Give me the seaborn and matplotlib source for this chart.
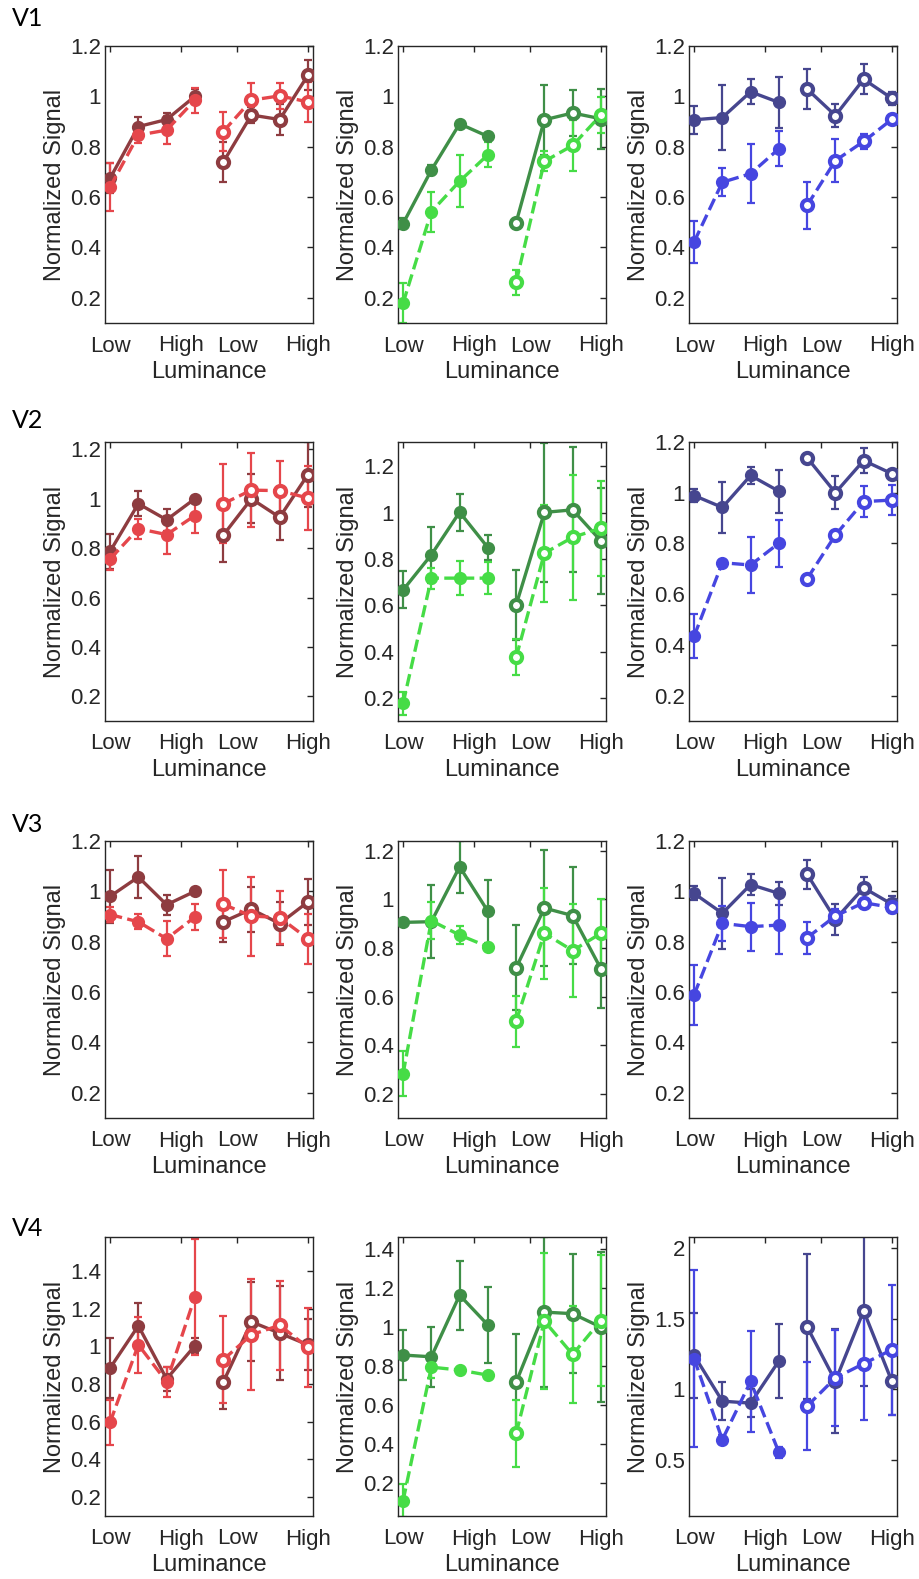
import numpy as np
import pandas as pd
import matplotlib
matplotlib.use("Agg")
import matplotlib.pyplot as plt
import seaborn as sns
from matplotlib.ticker import FuncFormatter

sns.set_theme(style="white")
plt.rcParams['font.family'] = ['Liberation Sans', 'DejaVu Sans']

# ---------------- data ----------------
x_pos = [1, 2, 3, 4, 5, 6, 7, 8]
x_tick_pos = [1, 3.5, 5.5, 8]
x_tick_labels = ["Low", "High", "Low", "High"]
row_labels = ["V1", "V2", "V3", "V4"]

# V1
V1_red_solid = [0.675, 0.88, 0.908, 1.0, 0.738, 0.926, 0.908, 1.084]
V1_red_solid_err = [0.06, 0.04, 0.027, 0.03, 0.08, 0.03, 0.06, 0.06]
V1_red_dash = [0.64, 0.846, 0.866, 0.985, 0.86, 0.985, 1.002, 0.978]
V1_red_dash_err = [0.095, 0.03, 0.056, 0.05, 0.077, 0.07, 0.053, 0.08]

V1_green_solid = [0.495, 0.707, 0.891, 0.841, 0.499, 0.907, 0.934, 0.911]
V1_green_solid_err = [0.02, 0.02, 0.01, 0.01, 0.01, 0.14, 0.09, 0.12]
V1_green_dash = [0.179, 0.542, 0.663, 0.768, 0.262, 0.742, 0.805, 0.926]
V1_green_dash_err = [0.08, 0.08, 0.104, 0.05, 0.05, 0.04, 0.1, 0.07]

V1_blue_solid = [0.907, 0.916, 1.018, 0.976, 1.029, 0.924, 1.068, 0.992]
V1_blue_solid_err = [0.056, 0.13, 0.05, 0.1, 0.08, 0.045, 0.06, 0.025]
V1_blue_dash = [0.422, 0.659, 0.693, 0.792, 0.567, 0.745, 0.821, 0.909]
V1_blue_dash_err = [0.085, 0.055, 0.117, 0.07, 0.092, 0.085, 0.03, 0.018]

# V2
V2_red_solid = [0.787, 0.98, 0.915, 1.0, 0.852, 1.0, 0.925, 1.098]
V2_red_solid_err = [0.07, 0.05, 0.045, 0.01, 0.11, 0.1, 0.09, 0.13]
V2_red_dash = [0.756, 0.879, 0.855, 0.932, 0.98, 1.035, 1.033, 1.003]
V2_red_dash_err = [0.045, 0.04, 0.077, 0.07, 0.16, 0.15, 0.12, 0.13]

V2_green_solid = [0.666, 0.818, 1.002, 0.849, 0.601, 1.001, 1.012, 0.878]
V2_green_solid_err = [0.08, 0.12, 0.08, 0.054, 0.15, 0.3, 0.27, 0.23]
V2_green_dash = [0.176, 0.717, 0.717, 0.717, 0.375, 0.825, 0.893, 0.933]
V2_green_dash_err = [0.05, 0.045, 0.074, 0.07, 0.078, 0.21, 0.27, 0.205]

V2_blue_solid = [0.989, 0.942, 1.068, 1.006, 1.138, 1.0, 1.127, 1.075]
V2_blue_solid_err = [0.025, 0.1, 0.035, 0.085, 0.01, 0.065, 0.048, 0.01]
V2_blue_dash = [0.434, 0.724, 0.715, 0.801, 0.661, 0.833, 0.965, 0.971]
V2_blue_dash_err = [0.086, 0.01, 0.112, 0.093, 0.01, 0.01, 0.062, 0.06]

# V3
V3_red_solid = [0.98, 1.057, 0.947, 1.0, 0.879, 0.929, 0.872, 0.958]
V3_red_solid_err = [0.106, 0.083, 0.04, 0.01, 0.08, 0.09, 0.085, 0.09]
V3_red_dash = [0.908, 0.879, 0.812, 0.898, 0.949, 0.902, 0.896, 0.812]
V3_red_dash_err = [0.03, 0.03, 0.07, 0.05, 0.134, 0.157, 0.105, 0.1]

V3_green_solid = [0.905, 0.908, 1.134, 0.951, 0.718, 0.964, 0.933, 0.714]
V3_green_solid_err = [0.01, 0.15, 0.108, 0.13, 0.175, 0.24, 0.2, 0.16]
V3_green_dash = [0.282, 0.912, 0.853, 0.805, 0.499, 0.86, 0.789, 0.86]
V3_green_dash_err = [0.093, 0.077, 0.038, 0.01, 0.105, 0.188, 0.19, 0.14]

V3_blue_solid = [0.992, 0.913, 1.027, 0.992, 1.068, 0.889, 1.014, 0.949]
V3_blue_solid_err = [0.028, 0.14, 0.04, 0.045, 0.057, 0.062, 0.043, 0.033]
V3_blue_dash = [0.589, 0.873, 0.86, 0.866, 0.816, 0.902, 0.955, 0.936]
V3_blue_dash_err = [0.12, 0.07, 0.095, 0.115, 0.063, 0.026, 0.01, 0.016]

# V4
V4_red_solid = [0.885, 1.109, 0.827, 1.003, 0.809, 1.13, 1.07, 1.008]
V4_red_solid_err = [0.16, 0.12, 0.065, 0.04, 0.14, 0.21, 0.25, 0.135]
V4_red_dash = [0.597, 1.008, 0.812, 1.262, 0.929, 1.061, 1.112, 0.994]
V4_red_dash_err = [0.12, 0.147, 0.08, 0.31, 0.23, 0.295, 0.235, 0.21]

V4_green_solid = [0.855, 0.846, 1.162, 1.009, 0.716, 1.075, 1.067, 0.998]
V4_green_solid_err = [0.13, 0.155, 0.177, 0.195, 0.245, 0.385, 0.305, 0.385]
V4_green_dash = [0.109, 0.793, 0.778, 0.752, 0.453, 1.029, 0.858, 1.032]
V4_green_dash_err = [0.085, 0.058, 0.01, 0.01, 0.17, 0.35, 0.25, 0.335]

V4_blue_solid = [1.24, 0.915, 0.901, 1.2, 1.442, 1.058, 1.556, 1.055]
V4_blue_solid_err = [0.3, 0.137, 0.1, 0.26, 0.515, 0.37, 0.53, 0.24]
V4_blue_dash = [1.217, 0.642, 1.055, 0.552, 0.88, 1.08, 1.181, 1.28]
V4_blue_dash_err = [0.63, 0.03, 0.36, 0.04, 0.31, 0.34, 0.4, 0.46]

# y-axis settings per panel (limits, ticks)
ylims = [
    [(0.1, 1.2), (0.1, 1.2), (0.1, 1.2)],
    [(0.1, 1.23), (0.1, 1.305), (0.1, 1.2)],
    [(0.1, 1.2), (0.1, 1.24), (0.1, 1.2)],
    [(0.1, 1.58), (0.03, 1.46), (0.1, 2.08)],
]
yticks_std = [0.2, 0.4, 0.6, 0.8, 1.0, 1.2]
yticks_v4 = [0.2, 0.4, 0.6, 0.8, 1.0, 1.2, 1.4]
yticks_v4_blue = [0.5, 1.0, 1.5, 2.0]
yticks = [
    [yticks_std, yticks_std, yticks_std],
    [yticks_std, yticks_std, yticks_std],
    [yticks_std, yticks_std, yticks_std],
    [yticks_v4, yticks_v4, yticks_v4_blue],
]

panels = [
    [(V1_red_solid, V1_red_solid_err, V1_red_dash, V1_red_dash_err),
     (V1_green_solid, V1_green_solid_err, V1_green_dash, V1_green_dash_err),
     (V1_blue_solid, V1_blue_solid_err, V1_blue_dash, V1_blue_dash_err)],
    [(V2_red_solid, V2_red_solid_err, V2_red_dash, V2_red_dash_err),
     (V2_green_solid, V2_green_solid_err, V2_green_dash, V2_green_dash_err),
     (V2_blue_solid, V2_blue_solid_err, V2_blue_dash, V2_blue_dash_err)],
    [(V3_red_solid, V3_red_solid_err, V3_red_dash, V3_red_dash_err),
     (V3_green_solid, V3_green_solid_err, V3_green_dash, V3_green_dash_err),
     (V3_blue_solid, V3_blue_solid_err, V3_blue_dash, V3_blue_dash_err)],
    [(V4_red_solid, V4_red_solid_err, V4_red_dash, V4_red_dash_err),
     (V4_green_solid, V4_green_solid_err, V4_green_dash, V4_green_dash_err),
     (V4_blue_solid, V4_blue_solid_err, V4_blue_dash, V4_blue_dash_err)],
]

solid_colors = ["#8e3c40", "#3f8f47", "#46468f"]
dash_colors = ["#e5464b", "#46dc46", "#4646e0"]

# ---------------- layout ----------------
W, H = 919, 1579
fig = plt.figure(figsize=(W / 100, H / 100), dpi=100)
col_left = [105, 398, 689]
ax_w = 208
row_top = [46, 442, 841, 1237]
row_bot = [323, 721, 1118, 1516]
label_y = [19, 420, 824, 1228]

text_col = "#262626"
fmt = FuncFormatter(lambda v, p: "%g" % v)

for r in range(4):
    fig.text(12 / W, 1 - label_y[r] / H, row_labels[r], fontsize=18,
             family=['Lato', 'DejaVu Sans'], color='black', va='center', ha='left')
    for c in range(3):
        l = col_left[c] / W
        b = 1 - row_bot[r] / H
        h = (row_bot[r] - row_top[r]) / H
        ax = fig.add_axes([l, b, ax_w / W, h])
        s, se, d, de = panels[r][c]
        for (vals, errs, col, ls) in [(s, se, solid_colors[c], '-'),
                                      (d, de, dash_colors[c], '--')]:
            for g in range(2):
                xs = x_pos[g * 4:(g + 1) * 4]
                ys = vals[g * 4:(g + 1) * 4]
                es = errs[g * 4:(g + 1) * 4]
                ax.errorbar(xs, ys, yerr=es, fmt='none', ecolor=col,
                            elinewidth=1.6, capsize=3.2, capthick=1.6, zorder=2)
                df = pd.DataFrame({"x": xs, "y": ys})
                face = col if g == 0 else 'white'
                kw = dict(linestyle=ls)
                if ls == '--':
                    kw['dashes'] = (3.6, 2.5)
                sns.lineplot(data=df, x="x", y="y", ax=ax, color=col,
                             linewidth=2.4, marker='o', markersize=8,
                             markerfacecolor=face, markeredgecolor=col,
                             markeredgewidth=3.0 if g == 1 else 1.5,
                             errorbar=None, zorder=3, **kw)
        ax.set_xlim(0.82, 8.18)
        ax.set_ylim(*ylims[r][c])
        ax.set_xticks(x_tick_pos)
        ax.set_xticklabels(x_tick_labels)
        ax.set_yticks(yticks[r][c])
        ax.yaxis.set_major_formatter(fmt)
        ax.tick_params(direction='in', top=True, right=True, length=4,
                       width=1, colors=text_col, labelsize=16)
        ax.tick_params(axis='y', pad=3)
        ax.tick_params(axis='x', pad=9)
        for sp in ax.spines.values():
            sp.set_color(text_col)
            sp.set_linewidth(1.0)
        ax.set_xlabel("Luminance", fontsize=17, color=text_col, labelpad=3)
        ax.set_ylabel("Normalized Signal", fontsize=17, color=text_col,
                      labelpad=3)

fig.savefig("out.png", dpi=100)
